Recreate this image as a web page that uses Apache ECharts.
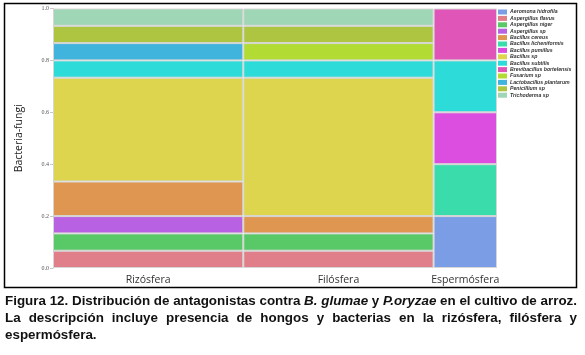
<!DOCTYPE html>
<html><head><meta charset="utf-8">
<script src="https://cdn.jsdelivr.net/npm/echarts@6/dist/echarts.min.js"></script>
<style>html,body{margin:0;padding:0;background:#fff}#c{width:585px;height:355px}</style>
</head><body><div id="c"></div>
<script>
const categories = ['Rizósfera', 'Filósfera', 'Espermósfera'];
const organisms = ['Aeromona hidrofila','Aspergillus flavus','Aspergillus niger','Aspergillus sp','Bacillus cereus','Bacillus licheniformis','Bacillus pumillus','Bacillus sp','Bacillus subtilis','Brevibacillus bortelensis','Fusarium sp','Lactobacillus plantarum','Penicillium sp','Trichoderma sp'];
// counts per organism for [Rizósfera, Filósfera, Espermósfera]
const aeromonaHidrofila = [0, 0, 1];
const aspergillusFlavus = [1, 1, 0];
const aspergillusNiger = [1, 1, 0];
const aspergillusSp = [1, 0, 0];
const bacillusCereus = [2, 1, 0];
const bacillusLicheniformis = [0, 0, 1];
const bacillusPumillus = [0, 0, 1];
const bacillusSp = [6, 8, 0];
const bacillusSubtilis = [1, 1, 1];
const brevibacillusBortelensis = [0, 0, 1];
const fusariumSp = [0, 1, 0];
const lactobacillusPlantarum = [1, 0, 0];
const penicilliumSp = [1, 1, 0];
const trichodermaSp = [1, 1, 0];
const counts = [aeromonaHidrofila, aspergillusFlavus, aspergillusNiger, aspergillusSp, bacillusCereus, bacillusLicheniformis, bacillusPumillus, bacillusSp, bacillusSubtilis, brevibacillusBortelensis, fusariumSp, lactobacillusPlantarum, penicilliumSp, trichodermaSp];
const yTicks = [0, 0.2, 0.4, 0.6, 0.8, 1.0];

const colors = ['#7b9de6','#e07f8a','#58c966','#b862e3','#de9650','#3adcab','#dc4ee0','#ddd54d','#2ddcd9','#e055b8','#b2dc33','#40b4dc','#adc541','#9fd6b5'];

// mosaic geometry derived from the counts
const colTotals = categories.map((_, j) => counts.reduce((s, a) => s + a[j], 0));
const grand = colTotals.reduce((a, b) => a + b, 0);
const colStart = [];
let acc = 0;
colTotals.forEach(t => { colStart.push(acc); acc += t; });
const cum = categories.map(() => 0);
const seriesData = counts.map((arr) => {
  const d = [];
  arr.forEach((v, j) => {
    if (v > 0) {
      const y0 = cum[j] / colTotals[j];
      cum[j] += v;
      const y1 = cum[j] / colTotals[j];
      d.push([colStart[j], colStart[j] + colTotals[j], y0, y1]);
    }
  });
  return d;
});
const centers = categories.map((_, j) => colStart[j] + colTotals[j] / 2);

function renderItem(params, api) {
  const p0 = api.coord([api.value(0), api.value(3)]);
  const p1 = api.coord([api.value(1), api.value(2)]);
  return {
    type: 'rect',
    shape: { x: p0[0] + 0.5, y: p0[1] + 0.5, width: p1[0] - p0[0] - 1, height: p1[1] - p0[1] - 1 },
    style: { fill: api.visual('color'), stroke: '#d6d6d6', lineWidth: 1 }
  };
}

// ---- caption layout (justified, condensed) ----
const capFont = 'bold 13px "Liberation Sans", Arial, sans-serif';
const capFontIt = 'italic bold 13px "Liberation Sans", Arial, sans-serif';
const mctx = document.createElement('canvas').getContext('2d');
function w(t, it) { mctx.font = it ? capFontIt : capFont; return mctx.measureText(t).width; }
const capLeft = 5, capWidth = 572;
const line1 = [['Figura 12. Distribución de antagonistas contra ', false], ['B. glumae', true], [' y ', false], ['P.oryzae', true], [' en el cultivo de arroz.', false]];
const line1W = line1.reduce((s, p) => s + w(p[0], p[1]), 0);
const sx = capWidth / line1W;
const capGraphics = [];
let cx = capLeft;
line1.forEach(p => {
  capGraphics.push({ type: 'text', x: cx, y: 295, scaleX: sx, silent: true,
    style: { text: p[0], font: p[1] ? capFontIt : capFont, fill: '#111' } });
  cx += w(p[0], p[1]) * sx;
});
const line2Words = 'La descripción incluye presencia de hongos y bacterias en la rizósfera, filósfera y'.split(' ');
const wordsW = line2Words.reduce((s, t) => s + w(t) * sx, 0);
const gap = (capWidth - wordsW) / (line2Words.length - 1);
cx = capLeft;
line2Words.forEach(t => {
  capGraphics.push({ type: 'text', x: cx, y: 312, scaleX: sx, silent: true,
    style: { text: t, font: capFont, fill: '#111' } });
  cx += w(t) * sx + gap;
});
capGraphics.push({ type: 'text', x: capLeft, y: 329, scaleX: sx, silent: true,
  style: { text: 'espermósfera.', font: capFont, fill: '#111' } });

const chart = echarts.init(document.getElementById('c'));
chart.setOption({
  animation: false,
  grid: { left: 53, right: 88, top: 8.5, bottom: 87 },
  xAxis: {
    type: 'value', min: 0, max: grand, interval: grand / 14,
    axisLine: { show: false }, axisTick: { show: false }, splitLine: { show: false },
    axisLabel: {
      showMinLabel: true, showMaxLabel: true, margin: 7,
      fontFamily: 'Open Sans', fontSize: 10.5, color: '#333',
      formatter: function (v) {
        for (let j = 0; j < centers.length; j++) if (Math.abs(v - centers[j]) < 1e-6) return categories[j];
        return '';
      }
    }
  },
  yAxis: {
    type: 'value', min: 0, max: 1, interval: 0.2,
    name: 'Bacteria-fungi', nameLocation: 'middle', nameGap: 28,
    nameTextStyle: { fontFamily: 'Open Sans', fontSize: 10.5, color: '#222' },
    axisLine: { show: true, lineStyle: { color: '#c8c8c8' } },
    axisTick: { show: true, length: 3, lineStyle: { color: '#c8c8c8' } },
    splitLine: { show: false },
    axisLabel: { fontFamily: 'Liberation Serif', fontSize: 6, color: '#555', margin: 4,
      formatter: v => yTicks.indexOf(+v.toFixed(1)) >= 0 ? v.toFixed(1) : '' }
  },
  legend: {
    orient: 'vertical', left: 498, top: 9, itemWidth: 9, itemHeight: 5, itemGap: 0.4,
    icon: 'rect', padding: 0,
    textStyle: { fontSize: 5.2, lineHeight: 6, fontWeight: 'bold', fontStyle: 'italic', color: '#333', fontFamily: 'Liberation Sans', padding: [0, 0, 0, -2] },
    data: organisms
  },
  series: organisms.map((name, i) => ({
    type: 'custom', name: name, renderItem: renderItem,
    itemStyle: { color: colors[i] },
    encode: { x: [0, 1], y: [2, 3] },
    data: seriesData[i]
  })),
  graphic: [
    { type: 'rect', shape: { x: 4.5, y: 3.5, width: 572, height: 284 }, style: { fill: 'none', stroke: '#000', lineWidth: 1.5 }, silent: true }
  ].concat(capGraphics)
});
</script></body></html>
